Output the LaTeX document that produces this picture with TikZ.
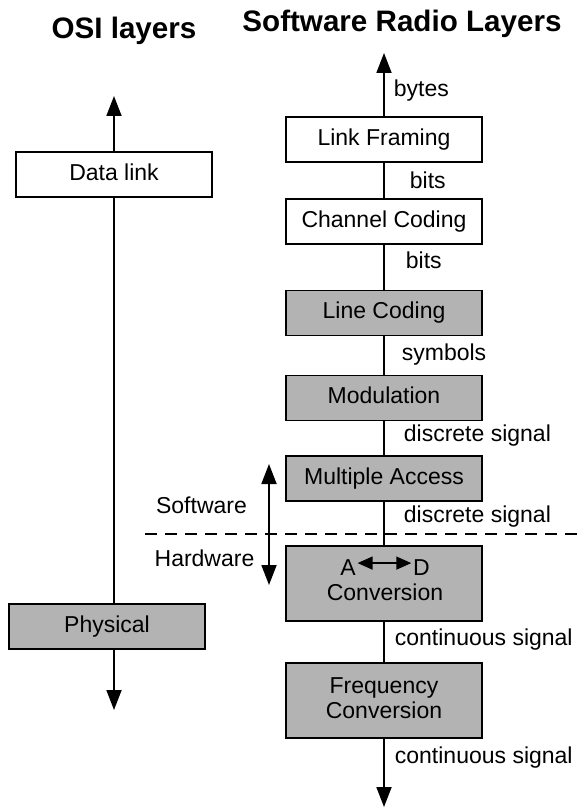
\documentclass[tikz,border=0pt]{standalone}
\usepackage{fontspec}
\setmainfont{Liberation Sans}
\usetikzlibrary{arrows.meta}
\definecolor{cgrey}{HTML}{B3B3B3}
\tikzset{
  every picture/.style={line width=0.9pt, font=\fontsize{11.5}{12.5}\selectfont},
  layer/.style={draw, fill=#1, line width=0.8pt, minimum width=98pt, minimum height=22.5pt,
    inner sep=0pt, align=center, text height=8.2pt, text depth=2.4pt},
  layer/.default=white,
  flow/.style={-{Triangle[length=10pt, width=7.5pt]}},
  both/.style={{Triangle[length=10pt, width=7.5pt]}-{Triangle[length=10pt, width=7.5pt]}},
  title/.style={font=\bfseries\fontsize{14.8}{16}\selectfont, anchor=base},
  note/.style={anchor=base west, inner sep=0pt},
  plain/.style={anchor=base, inner sep=0pt},
}

\begin{document}
\begin{tikzpicture}[x=0.5pt, y=-0.5pt]
  \useasboundingbox (0,0) rectangle (582,808);
  % titles
  \node[title] (osititle) at (124,39) {OSI layers};
  \node[title] (srtitle) at (402,32) {Software Radio Layers};
  % OSI
  \node[layer] (dlink) at (114,174.5) {Data link};
  \node[layer=cgrey] (phys) at (107,626.5) {Physical};
  \coordinate (ositop) at (114,96);
  \coordinate (osibot) at (114,710);
  \draw[flow] (dlink.north) -- (ositop);
  \draw (dlink.south) -- (dlink.south |- phys.north);
  \draw[flow] (phys.south -| dlink) -- (osibot);
  % software radio
  \node[layer] (lframe) at (384,139.5) {Link Framing};
  \node[layer] (chcode) at (384,221.5) {Channel Coding};
  \node[layer=cgrey] (lncode) at (384,313) {Line Coding};
  \node[layer=cgrey] (modul) at (384,398) {Modulation};
  \node[layer=cgrey] (maccess) at (384,478.5) {Multiple Access};
  \node[layer=cgrey, minimum height=37.5pt] (adconv) at (384,583.5) {};
  \node[layer=cgrey, minimum height=37.5pt, text height=, text depth=] (fconv) at (384,700.5) {\raisebox{3pt}{\begin{tabular}{@{}c@{}}Frequency\\Conversion\end{tabular}}};
  \node[plain, inner sep=0.5pt] (adA) at (348,575) {A};
  \node[plain, inner sep=0.5pt] (adD) at (421.5,575) {D};
  \node[plain] (adtxt) at (385,600) {Conversion};
  \draw[{Triangle[length=7.5pt, width=6.5pt]}-{Triangle[length=7.5pt, width=6.5pt]}, line width=0.7pt]
    ([yshift=2pt]adA.east) -- ([yshift=2pt]adD.west);
  \coordinate (srtop) at (384,53);
  \coordinate (srbot) at (384,807);
  \draw[flow] (lframe.north) -- (srtop);
  \draw (lframe) -- (chcode);
  \draw (chcode) -- (lncode);
  \draw (lncode) -- (modul);
  \draw (modul) -- (maccess);
  \draw (maccess) -- (adconv);
  \draw (adconv) -- (fconv);
  \draw[flow] (fconv.south) -- (srbot);
  % what flows between layers
  \node[note] (nbytes) at (393,97) {bytes};
  \node[note] (nbits1) at (409,188) {bits};
  \node[note] (nbits2) at (405,268) {bits};
  \node[note] (nsym) at (401,360) {symbols};
  \node[note] (ndisc1) at (403,441) {discrete signal};
  \node[note] (ndisc2) at (403,522) {discrete signal};
  \node[note] (ncont1) at (394,645) {continuous signal};
  \node[note] (ncont2) at (394,763) {continuous signal};
  % software / hardware split
  \coordinate (cutL) at (145,534);
  \coordinate (cutR) at (582,534);
  \draw[dash pattern=on 6pt off 4pt, line width=0.6pt] (cutL) -- (cutR);
  \coordinate (swtop) at (269,464);
  \coordinate (hwbot) at (269,585);
  \draw[both] (swtop) -- (hwbot);
  \node[plain] (swlbl) at (201.5,513) {Software};
  \node[plain] (hwlbl) at (204.5,566) {Hardware};
\end{tikzpicture}
\end{document}
